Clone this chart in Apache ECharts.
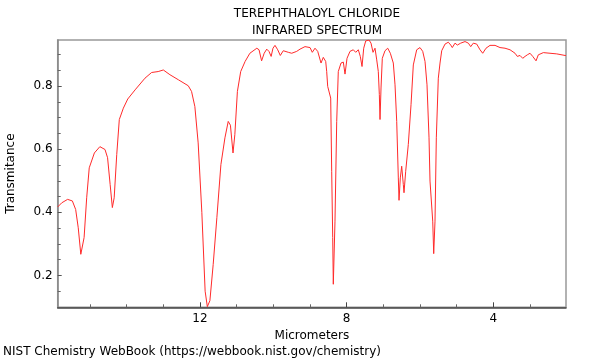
<!DOCTYPE html>
<html>
<head>
<meta charset="utf-8">
<script src="https://cdn.jsdelivr.net/npm/echarts@6/dist/echarts.min.js"></script>
<style>html,body{margin:0;padding:0;background:#fff;}#c{width:600px;height:360px;}</style>
</head>
<body>
<div id="c"></div>
<script>
const titleLines = ['TEREPHTHALOYL CHLORIDE', 'INFRARED SPECTRUM'];
const xName = 'Micrometers';
const yName = 'Transmitance';
const footer = 'NIST Chemistry WebBook (https://webbook.nist.gov/chemistry)';
const xRange = [2.02, 15.88];
const yRange = [0.099, 0.946];
const xMajorTicks = [12, 8, 4];
const xMinorTicks = [3, 5, 6, 7, 9, 10, 11, 13, 14, 15];
const yMajorTicks = [0.2, 0.4, 0.6, 0.8];
const yMinorTicks = [0.15, 0.25, 0.3, 0.35, 0.45, 0.5, 0.55, 0.65, 0.7, 0.75, 0.85, 0.9];

const wavelength = [15.88,15.77,15.61,15.48,15.39,15.32,15.25,15.23,15.16,15.09,15.02,14.88,14.73,14.59,14.52,14.45,14.39,14.34,14.27,14.20,14.09,13.97,13.77,13.50,13.32,13.14,13.00,12.82,12.59,12.32,12.23,12.14,12.05,11.95,11.86,11.80,11.73,11.64,11.54,11.43,11.32,11.23,11.17,11.10,11.05,10.98,10.89,10.77,10.64,10.45,10.39,10.32,10.25,10.18,10.12,10.06,10.01,9.955,9.881,9.810,9.729,9.592,9.499,9.363,9.273,9.137,9.000,8.938,8.864,8.790,8.700,8.638,8.572,8.545,8.518,8.474,8.436,8.409,8.381,8.365,8.319,8.272,8.229,8.155,8.092,8.046,7.991,7.910,7.820,7.754,7.683,7.629,7.582,7.536,7.481,7.391,7.337,7.282,7.228,7.181,7.138,7.110,7.091,7.064,7.029,6.955,6.881,6.810,6.729,6.682,6.636,6.592,6.573,6.538,6.500,6.456,6.437,6.391,6.320,6.246,6.183,6.091,6.001,5.927,5.864,5.810,5.755,5.728,5.682,5.654,5.627,5.592,5.556,5.502,5.455,5.409,5.319,5.229,5.163,5.120,5.046,4.983,4.891,4.773,4.683,4.618,4.547,4.454,4.364,4.291,4.201,4.092,3.955,3.819,3.683,3.546,3.410,3.347,3.274,3.200,3.137,3.075,3.001,2.927,2.837,2.775,2.638,2.456,2.273,2.046,2.02];
const transmittance = [0.417,0.430,0.441,0.436,0.409,0.351,0.267,0.262,0.320,0.446,0.541,0.588,0.608,0.599,0.573,0.488,0.415,0.446,0.583,0.694,0.730,0.759,0.788,0.825,0.843,0.846,0.851,0.836,0.820,0.801,0.783,0.735,0.620,0.400,0.150,0.101,0.120,0.235,0.383,0.551,0.636,0.688,0.676,0.588,0.646,0.783,0.846,0.878,0.904,0.920,0.915,0.880,0.904,0.917,0.910,0.894,0.920,0.929,0.915,0.897,0.912,0.907,0.904,0.910,0.917,0.925,0.922,0.907,0.920,0.910,0.873,0.891,0.878,0.846,0.799,0.794,0.762,0.530,0.320,0.172,0.372,0.688,0.846,0.873,0.876,0.838,0.888,0.910,0.915,0.907,0.915,0.894,0.862,0.920,0.943,0.946,0.936,0.907,0.920,0.883,0.846,0.773,0.694,0.794,0.888,0.912,0.920,0.904,0.873,0.804,0.688,0.509,0.438,0.509,0.546,0.488,0.462,0.530,0.615,0.741,0.867,0.915,0.922,0.910,0.878,0.804,0.636,0.499,0.497,0.372,0.269,0.372,0.636,0.825,0.873,0.912,0.933,0.939,0.930,0.922,0.936,0.930,0.936,0.941,0.936,0.925,0.936,0.933,0.915,0.904,0.920,0.929,0.929,0.922,0.920,0.915,0.904,0.894,0.897,0.888,0.894,0.899,0.904,0.894,0.880,0.899,0.906,0.904,0.902,0.897,0.897];

const FONT = 'DejaVu Sans';
const seriesData = wavelength.map((w, i) => [w, transmittance[i]]);

const chart = echarts.init(document.getElementById('c'), null, {renderer: 'canvas'});
const baseX = {
  type: 'value', min: xRange[0], max: xRange[1], inverse: true, position: 'bottom',
  splitLine: {show: false}
};
const baseY = {
  type: 'value', min: yRange[0], max: yRange[1], position: 'left',
  splitLine: {show: false}
};
chart.setOption({
  animation: false,
  backgroundColor: '#fff',
  title: {
    text: titleLines.join('\n'),
    left: 312, top: 0, textAlign: 'center',
    textStyle: {fontFamily: FONT, fontSize: 12, fontWeight: 'normal', color: '#000', lineHeight: 17}
  },
  grid: {left: 57.7, right: 34, top: 40, bottom: 52.7, show: true, borderColor: '#999', borderWidth: 1.5, containLabel: false, outerBoundsMode: 'none'},
  xAxis: [
    Object.assign({}, baseX, {
      name: xName, nameLocation: 'middle', nameGap: 19,
      nameTextStyle: {fontFamily: FONT, fontSize: 12, color: '#000'},
      axisLine: {show: true, lineStyle: {color: '#444', width: 1.5}},
      axisTick: {show: true, inside: true, length: 5, customValues: xMajorTicks, lineStyle: {color: '#444'}},
      axisLabel: {show: true, margin: 6, customValues: xMajorTicks, fontFamily: FONT, fontSize: 12, color: '#000'}
    }),
    Object.assign({}, baseX, {
      axisLine: {show: false},
      axisTick: {show: true, inside: true, length: 3, customValues: xMinorTicks, lineStyle: {color: '#666'}},
      axisLabel: {show: false}
    })
  ],
  yAxis: [
    Object.assign({}, baseY, {
      name: yName, nameLocation: 'middle', nameGap: 41, nameRotate: 90,
      nameTextStyle: {fontFamily: FONT, fontSize: 12, color: '#000'},
      axisLine: {show: true, lineStyle: {color: '#888', width: 1.5}},
      axisTick: {show: true, inside: true, length: 4, customValues: yMajorTicks, lineStyle: {color: '#555'}},
      axisLabel: {show: true, margin: 5, customValues: yMajorTicks, formatter: v => v.toFixed(1), fontFamily: FONT, fontSize: 12, color: '#000'}
    }),
    Object.assign({}, baseY, {
      axisLine: {show: false},
      axisTick: {show: true, inside: true, length: 3, customValues: yMinorTicks, lineStyle: {color: '#666'}},
      axisLabel: {show: false}
    })
  ],
  graphic: [{
    type: 'text', left: 3, top: 346,
    style: {text: footer, fontFamily: FONT, fontSize: 12, fill: '#000'}
  }],
  series: [{
    type: 'line', xAxisIndex: 0, yAxisIndex: 0,
    data: seriesData, showSymbol: false, symbol: 'none',
    lineStyle: {color: '#ff2a2a', width: 1}, clip: true
  }]
});
</script>
</body>
</html>
